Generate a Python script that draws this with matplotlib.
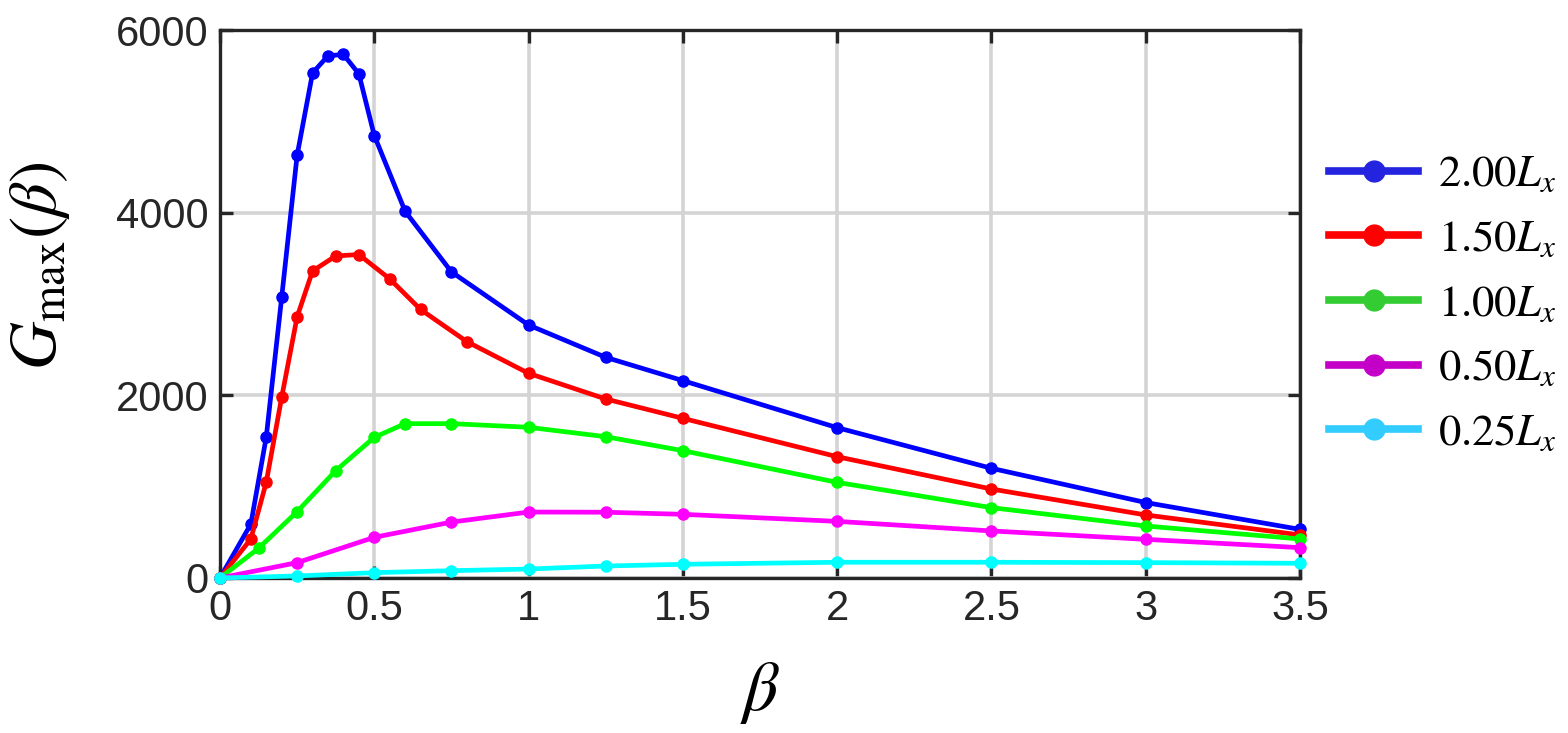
import numpy as np
import matplotlib
matplotlib.use('Agg')
import matplotlib.pyplot as plt
from matplotlib.lines import Line2D

plt.rcParams['font.family'] = ['Liberation Sans', 'DejaVu Sans']
plt.rcParams['mathtext.fontset'] = 'stix'

# beta values and G_max for each domain length
beta_200 = [0, 0.1, 0.15, 0.2, 0.25, 0.3, 0.35, 0.4, 0.45, 0.5, 0.6, 0.75,
            1.0, 1.25, 1.5, 2.0, 2.5, 3.0, 3.5]
g_200 = [0, 590, 1545, 3075, 4630, 5530, 5718, 5733, 5520, 4845, 4015, 3352,
         2770, 2416, 2161, 1646, 1201, 826, 532]

beta_150 = [0, 0.1, 0.15, 0.2, 0.25, 0.3, 0.375, 0.45, 0.55, 0.65, 0.8,
            1.0, 1.25, 1.5, 2.0, 2.5, 3.0, 3.5]
g_150 = [0, 427, 1050, 1980, 2860, 3362, 3526, 3542, 3275, 2940, 2588,
         2241, 1960, 1748, 1328, 974, 690, 471]

beta_100 = [0, 0.125, 0.25, 0.375, 0.5, 0.6, 0.75, 1.0, 1.25, 1.5, 2.0, 2.5, 3.0, 3.5]
g_100 = [0, 325, 726, 1175, 1540, 1690, 1690, 1650, 1547, 1394, 1047, 770, 569, 427]

beta_050 = [0, 0.25, 0.5, 0.75, 1.0, 1.25, 1.5, 2.0, 2.5, 3.0, 3.5]
g_050 = [0, 168, 445, 612, 722, 720, 697, 620, 515, 423, 332]

beta_025 = [0, 0.25, 0.5, 0.75, 1.0, 1.25, 1.5, 2.0, 2.5, 3.0, 3.5]
g_025 = [0, 22, 58, 80, 98, 131, 150, 172, 172, 168, 161]

labels = [r'$2.00L_x$', r'$1.50L_x$', r'$1.00L_x$', r'$0.50L_x$', r'$0.25L_x$']
line_colors = ['#0000ff', '#ff0000', '#00ff00', '#ff00ff', '#00ffff']
legend_colors = ['#2424e0', '#ff0000', '#33cc33', '#c400c8', '#33ccff']

series = [(beta_200, g_200), (beta_150, g_150), (beta_100, g_100),
          (beta_050, g_050), (beta_025, g_025)]

fig = plt.figure(figsize=(15.68, 7.33), dpi=100)
ax = fig.add_axes([0.1403, 0.2115, 0.6888, 0.7475])

for (b, g), c in zip(series, line_colors):
    ax.plot(b, g, '-o', color=c, lw=3.4, ms=8, clip_on=False, zorder=3)

ax.set_xlim(0, 3.5)
ax.set_ylim(0, 6000)
ax.set_xticks([0, 0.5, 1, 1.5, 2, 2.5, 3, 3.5])
ax.set_xticklabels(['0', '0.5', '1', '1.5', '2', '2.5', '3', '3.5'])
ax.set_yticks([0, 2000, 4000, 6000])
ax.grid(True, color='#d4d4d4', lw=2.6)
ax.set_axisbelow(True)

for s in ax.spines.values():
    s.set_linewidth(2.4)
    s.set_color('#262626')
ax.tick_params(direction='in', length=9, width=2.4, colors='#262626',
               labelsize=30, top=True, right=True, pad=8)

ax.set_xlabel(r'$\beta$', fontsize=50)
ax.set_ylabel(r'$G_{\max}(\beta)$', fontsize=48)
ax.xaxis.set_label_coords(0.5, -0.15)
ax.yaxis.set_label_coords(-0.137, 0.57)

handles = [Line2D([0], [0], color=c, lw=5.5, marker='o', ms=15) for c in legend_colors]
ax.legend(handles, labels, loc='center left', bbox_to_anchor=(0.99, 0.5),
          frameon=False, fontsize=32, handlelength=2.0, labelspacing=0.53,
          handletextpad=0.45)

fig.savefig('out.png', dpi=100)
